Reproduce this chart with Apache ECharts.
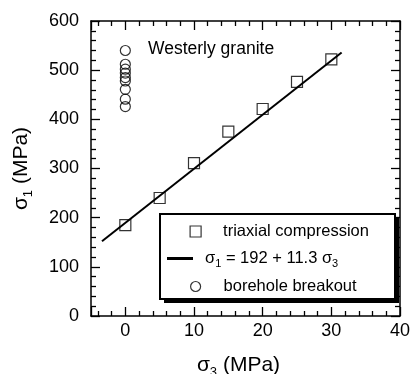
<!DOCTYPE html>
<html>
<head>
<meta charset="utf-8">
<script src="https://cdn.jsdelivr.net/npm/echarts@6/dist/echarts.min.js"></script>
<style>
  html, body { margin: 0; padding: 0; background: #fff; }
  #chart { width: 411px; height: 374px; }
</style>
</head>
<body>
<div id="chart"></div>
<script>
// triaxial compression tests (sigma3, sigma1 in MPa)
const triaxialSigma3 = [0, 5, 10, 15, 20, 25, 30]
const triaxialSigma1 = [185, 240, 311, 375, 421, 476, 522]
// end points of the fitted line sigma1 = 192 + 11.3 sigma3
const fitSigma3 = [-3.4, 31.5]
const fitSigma1 = [152, 536]
// borehole breakout estimates, all at sigma3 = 0
const breakoutSigma3 = [0, 0, 0, 0, 0, 0, 0, 0, 0]
const breakoutSigma1 = [540, 512, 502, 494, 485, 478, 461, 441, 426]
// axis ranges
const xRange = [-5, 40]
const yRange = [0, 600]
const yStep = 100

const legendText = {
  triaxial: 'triaxial compression',
  fit: '{t|σ}{s|1}{t| = 192 + 11.3 σ}{s|3}',
  breakout: 'borehole breakout'
}

const FONT = 'Liberation Sans, Arial, Helvetica, sans-serif'
const zip = (xs, ys) => xs.map((x, i) => [x, ys[i]])

const chart = echarts.init(document.getElementById('chart'), null, { renderer: 'canvas' })

const frameLine = { show: true, onZero: false, lineStyle: { color: '#000', width: 1.5 } }
const majorTick = { show: true, inside: true, length: 9, lineStyle: { color: '#000', width: 1.3 } }
const minorTick = { show: true, splitNumber: 5, length: 5, lineStyle: { color: '#000', width: 1.3 } }

const subRich = {
  t: { fontSize: 21, fontFamily: FONT, color: '#000', lineHeight: 28 },
  s: { fontSize: 13, fontFamily: FONT, color: '#000', verticalAlign: 'bottom', lineHeight: 15 }
}
const legendRich = {
  t: { fontSize: 16.5, fontFamily: FONT, color: '#000', lineHeight: 22 },
  s: { fontSize: 11, fontFamily: FONT, color: '#000', verticalAlign: 'bottom', lineHeight: 13 }
}

function makeLegend(name, icon, left, top, w, h, gap, itemStyle) {
  return {
    data: [{ name: name, icon: icon, itemStyle: itemStyle }],
    orient: 'vertical',
    left: left,
    top: top,
    padding: 0,
    itemWidth: w,
    itemHeight: h,
    selectedMode: false,
    z: 10,
    formatter: n => (n === 'fit' ? legendText.fit : '{t|' + legendText[n] + '}'),
    textStyle: {
      padding: [0, 0, 0, gap],
      rich: legendRich
    }
  }
}

chart.setOption({
  animation: false,
  textStyle: { fontFamily: FONT },
  title: {
    text: 'Westerly granite',
    left: 148,
    top: 40,
    padding: 0,
    textStyle: { fontSize: 17.5, fontWeight: 'normal', color: '#000', fontFamily: FONT }
  },
  grid: { left: 91, right: 11, top: 21, bottom: 58, outerBoundsMode: 'none' },
  legend: [
    makeLegend('triaxial', 'rect', 189.5, 223, 11, 11, 17,
      { color: '#fff', borderColor: '#000', borderWidth: 1.2 }),
    makeLegend('fit', 'rect', 167, 250, 26, 3, 7,
      { color: '#000', borderWidth: 0 }),
    makeLegend('breakout', 'circle', 190, 278, 10, 10, 18,
      { color: '#fff', borderColor: '#000', borderWidth: 1.2 })
  ],
  graphic: [
    {
      type: 'rect', z: 5,
      shape: { x: 164, y: 218, width: 235, height: 85 },
      style: { fill: '#000' }
    },
    {
      type: 'rect', z: 6,
      shape: { x: 160, y: 214, width: 235, height: 85 },
      style: { fill: '#fff', stroke: '#000', lineWidth: 2 }
    }
  ],
  xAxis: [
    {
      type: 'value',
      min: xRange[0],
      max: xRange[1],
      splitNumber: 5,
      axisLine: frameLine,
      axisTick: majorTick,
      minorTick: minorTick,
      splitLine: { show: false },
      axisLabel: {
        color: '#000', fontSize: 18, fontFamily: FONT, margin: 6,
        formatter: v => (v < 0 ? '' : String(v))
      },
      name: '{t|σ}{s|3}{t| (MPa)}',
      nameLocation: 'middle',
      nameGap: 35,
      nameTextStyle: { rich: subRich, padding: [0, 14, 0, 0] }
    },
    {
      type: 'value',
      position: 'top',
      min: xRange[0],
      max: xRange[1],
      splitNumber: 5,
      axisLine: frameLine,
      axisTick: majorTick,
      minorTick: minorTick,
      splitLine: { show: false },
      axisLabel: { show: false }
    }
  ],
  yAxis: [
    {
      type: 'value',
      min: yRange[0],
      max: yRange[1],
      interval: yStep,
      axisLine: frameLine,
      axisTick: majorTick,
      minorTick: minorTick,
      splitLine: { show: false },
      axisLabel: { color: '#000', fontSize: 18, fontFamily: FONT, margin: 12 },
      name: '{t|σ}{s|1}{t| (MPa)}',
      nameLocation: 'middle',
      nameRotate: 90,
      nameGap: 56,
      nameTextStyle: { rich: subRich }
    },
    {
      type: 'value',
      position: 'right',
      min: yRange[0],
      max: yRange[1],
      interval: yStep,
      axisLine: frameLine,
      axisTick: majorTick,
      minorTick: minorTick,
      splitLine: { show: false },
      axisLabel: { show: false }
    }
  ],
  series: [
    {
      name: 'triaxial',
      type: 'scatter',
      symbol: 'rect',
      symbolSize: 11,
      itemStyle: { color: 'rgba(255,255,255,0)', borderColor: '#000', borderWidth: 1.2 },
      data: zip(triaxialSigma3, triaxialSigma1),
      z: 3
    },
    {
      name: 'fit',
      type: 'line',
      showSymbol: false,
      symbol: 'none',
      itemStyle: { color: '#000' },
      lineStyle: { color: '#000', width: 2 },
      data: zip(fitSigma3, fitSigma1),
      z: 2
    },
    {
      name: 'breakout',
      type: 'scatter',
      symbol: 'circle',
      symbolSize: 10,
      itemStyle: { color: 'rgba(255,255,255,0)', borderColor: '#000', borderWidth: 1.2 },
      data: zip(breakoutSigma3, breakoutSigma1),
      z: 3
    }
  ]
})
</script>
</body>
</html>
